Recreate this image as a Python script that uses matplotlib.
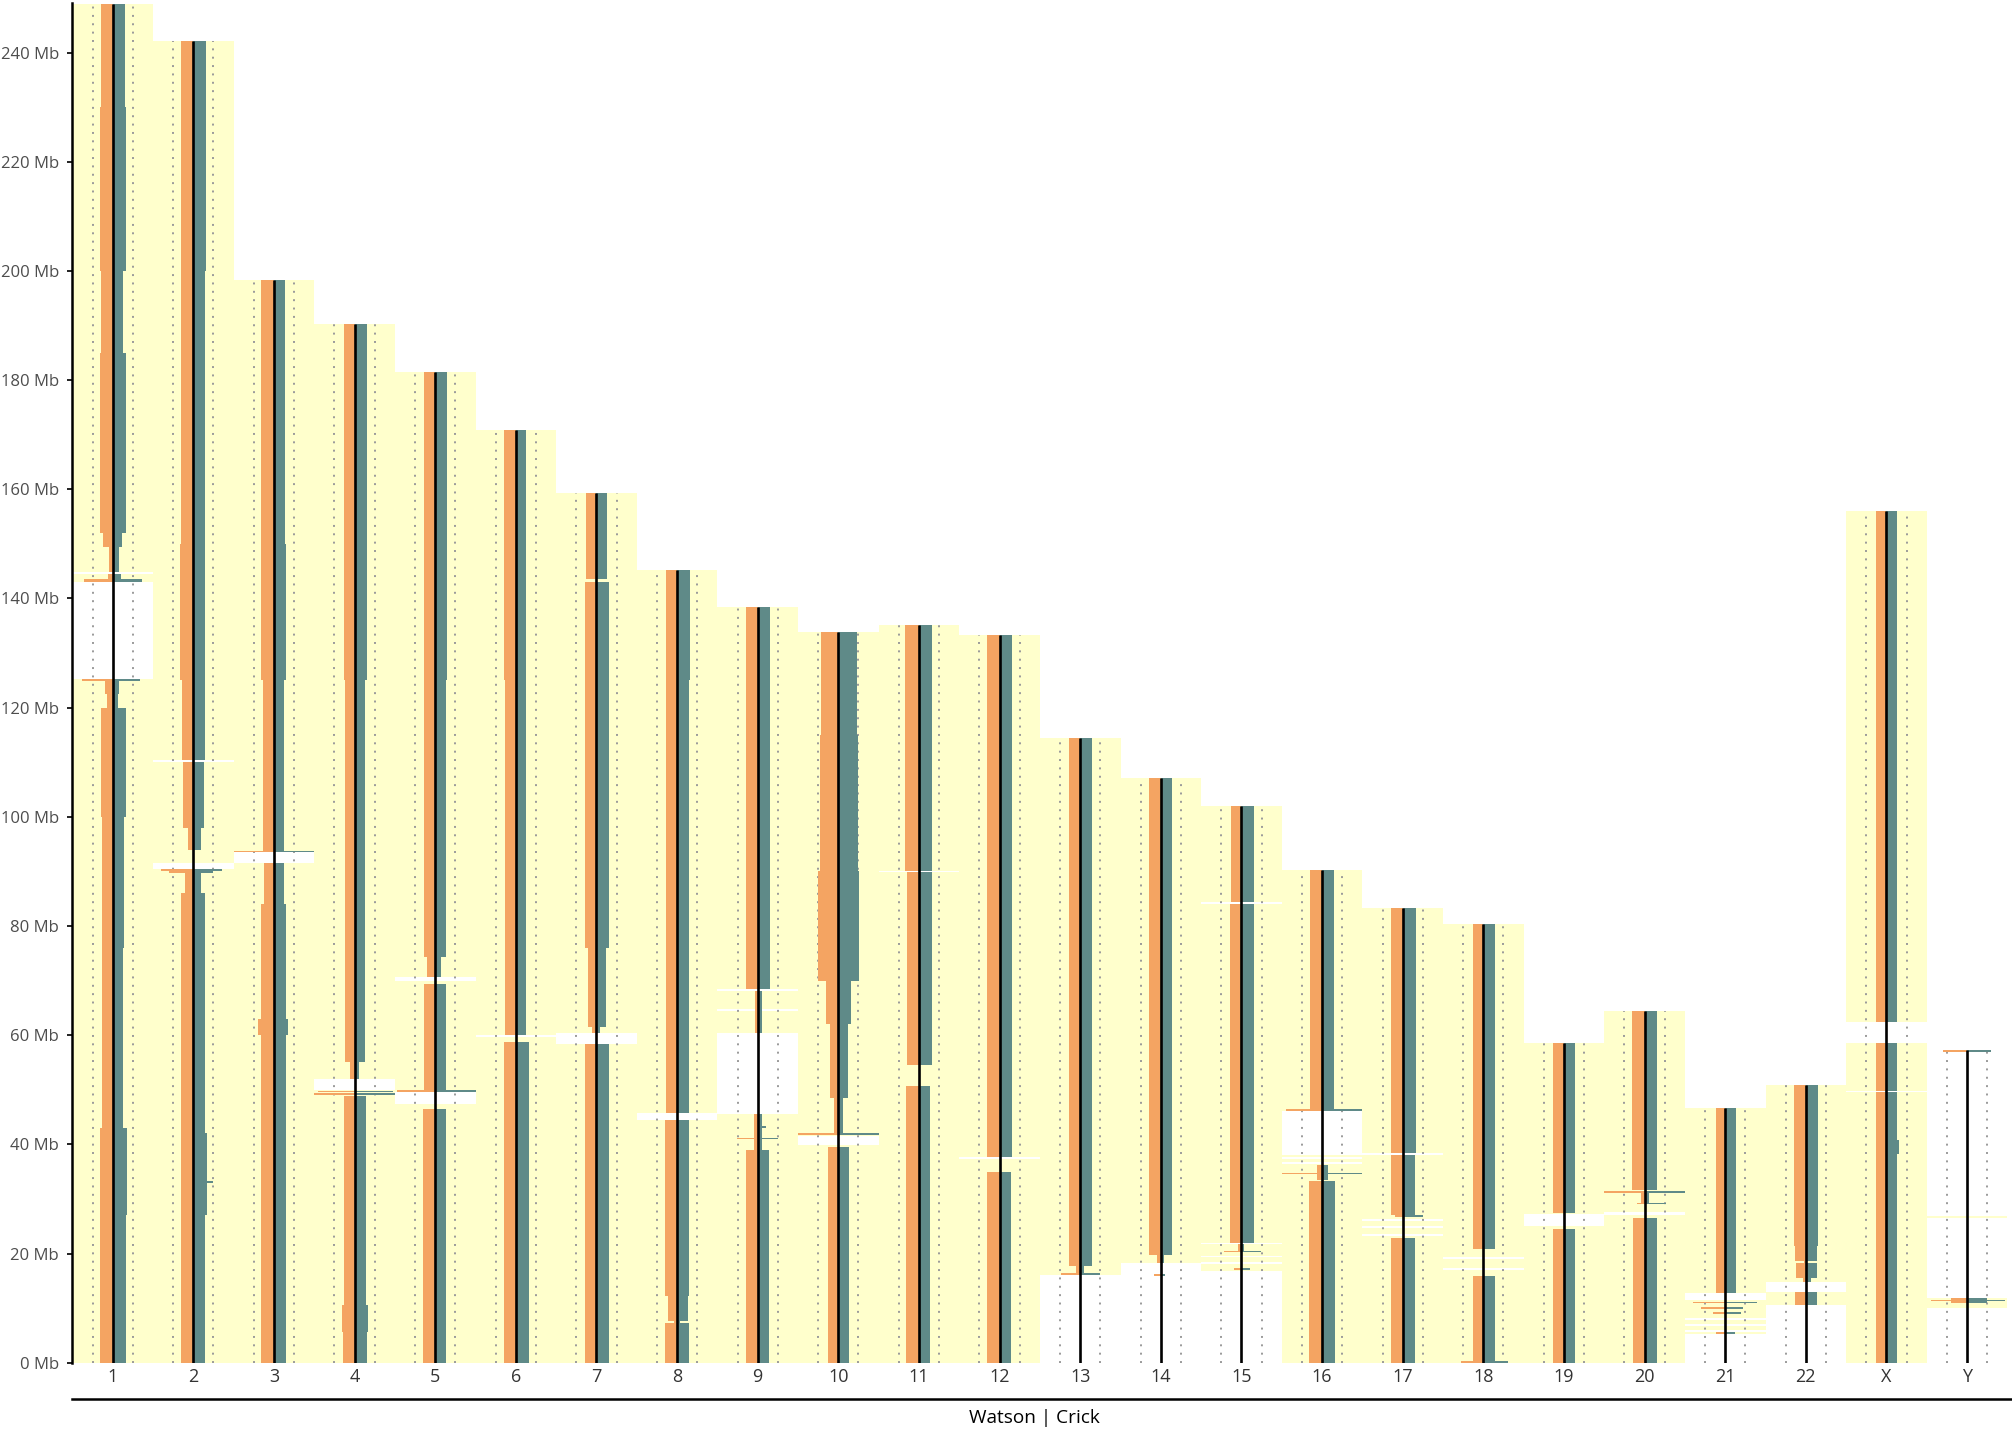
import matplotlib
matplotlib.use('Agg')
import matplotlib.pyplot as plt
from matplotlib.lines import Line2D

plt.rcParams['font.family'] = ['Open Sans', 'DejaVu Sans']

W_PX, H_PX = 2012, 1433

chroms = ['1', '2', '3', '4', '5', '6', '7', '8', '9', '10', '11', '12',
          '13', '14', '15', '16', '17', '18', '19', '20', '21', '22', 'X', 'Y']
chrom_len = [248.96, 242.19, 198.30, 190.21, 181.54, 170.81, 159.35, 145.14,
             138.39, 133.80, 135.09, 133.28, 114.36, 107.04, 101.99, 90.34,
             83.26, 80.37, 58.62, 64.44, 46.71, 50.82, 156.04, 57.23]

# stretches without bins (white background), Mb
gap_chrom = ['1', '1', '2', '2', '3', '4', '5', '5', '6', '7', '8',
             '9', '9', '9', '10', '11', '12', '13', '14',
             '15', '15', '15', '15', '15', '16', '16', '16',
             '17', '17', '17', '17', '18', '18', '19', '20',
             '21', '21', '21', '21', '21', '22', '22', 'X', 'X',
             'Y', 'Y', 'Y']
gap_start = [125.2, 144.5, 110.0, 90.5, 91.6, 49.9, 47.3, 69.9, 59.6, 58.4, 44.5,
             45.6, 68.0, 64.5, 39.9, 89.8, 37.3, 0.0, 0.0,
             0.0, 18.0, 19.3, 21.8, 84.1, 38.0, 37.4, 36.4,
             38.1, 26.0, 24.7, 23.3, 19.0, 17.0, 25.0, 27.1,
             0.0, 5.7, 6.7, 7.8, 11.4, 0.0, 13.0, 58.6, 49.5,
             0.0, 11.9, 26.8]
gap_end = [143.1, 144.9, 110.4, 91.5, 93.5, 51.9, 49.5, 70.6, 60.1, 60.4, 45.7,
           60.4, 68.4, 64.8, 41.6, 90.1, 37.6, 16.0, 18.3,
           16.8, 18.4, 19.6, 22.0, 84.4, 46.1, 37.7, 36.8,
           38.4, 26.3, 25.0, 23.6, 19.3, 17.3, 27.3, 27.6,
           5.2, 6.0, 7.0, 8.1, 12.8, 10.6, 14.8, 62.5, 49.8,
           10.0, 26.5, 57.23]

# (start Mb, end Mb, Watson, Crick) - read depth as share of column width
seg_1 = [(0, 27, 0.16, 0.17), (27, 43, 0.16, 0.18), (43, 76, 0.13, 0.13),
         (76, 100, 0.13, 0.14), (100, 120, 0.14, 0.16), (120, 122.5, 0.07, 0.06),
         (122.5, 124.9, 0.10, 0.08), (124.9, 125.2, 0.38, 0.34),
         (143.1, 143.5, 0.35, 0.36), (143.5, 144.5, 0.06, 0.10),
         (144.9, 149.5, 0.05, 0.08), (149.5, 152, 0.12, 0.12), (152, 185, 0.16, 0.16),
         (185, 200, 0.15, 0.13), (200, 230, 0.16, 0.17), (230, 248.96, 0.15, 0.15)]
seg_2 = [(0, 27, 0.15, 0.15), (27, 42, 0.15, 0.17), (33.0, 33.3, 0.15, 0.25),
         (42, 86, 0.15, 0.15), (86, 89.7, 0.10, 0.10), (89.7, 90.0, 0.30, 0.25),
         (90.1, 90.4, 0.40, 0.36), (94.0, 98.0, 0.07, 0.09), (98.0, 110.0, 0.13, 0.13),
         (110.4, 125, 0.14, 0.14), (125, 150, 0.16, 0.15), (150, 200, 0.15, 0.14),
         (200, 242.19, 0.15, 0.16)]
seg_3 = [(0, 60, 0.16, 0.15), (60, 63, 0.20, 0.17), (63, 84, 0.16, 0.15),
         (84, 91.5, 0.12, 0.12), (93.5, 93.8, 0.49, 0.50), (93.8, 125, 0.13, 0.12),
         (125, 150, 0.16, 0.15), (150, 198.3, 0.16, 0.14)]
seg_4 = [(0, 5.7, 0.14, 0.15), (5.7, 10.6, 0.16, 0.17), (10.6, 48.8, 0.13, 0.14),
         (49.1, 49.4, 0.50, 0.50), (49.5, 49.8, 0.45, 0.48), (51.9, 55.0, 0.06, 0.06),
         (55.0, 125, 0.12, 0.13), (125, 190.21, 0.13, 0.15)]
seg_5 = [(0, 46.5, 0.15, 0.14), (49.6, 49.9, 0.48, 0.50), (49.9, 69.4, 0.14, 0.14),
         (70.6, 74.4, 0.10, 0.07), (74.4, 125, 0.14, 0.14), (125, 181.54, 0.14, 0.15)]
seg_6 = [(0, 58.7, 0.15, 0.16), (60.1, 125, 0.14, 0.13), (125, 170.81, 0.145, 0.13)]
seg_7 = [(0, 58.4, 0.14, 0.15), (60.4, 61.5, 0.05, 0.05), (61.5, 76.0, 0.10, 0.12),
         (76.0, 125, 0.14, 0.15), (125, 143.0, 0.14, 0.16), (143.5, 159.35, 0.13, 0.13)]
seg_8 = [(0, 7.2, 0.15, 0.15), (7.2, 7.7, 0.04, 0.03), (7.7, 12.2, 0.11, 0.14),
         (12.2, 44.5, 0.15, 0.15), (45.7, 125, 0.14, 0.15), (125, 145.14, 0.14, 0.16)]
seg_9 = [(0, 39.0, 0.14, 0.14), (39.0, 45.6, 0.04, 0.05), (40.9, 41.2, 0.26, 0.25),
         (43.0, 43.3, 0.04, 0.10), (60.4, 68.0, 0.03, 0.05), (68.4, 138.39, 0.14, 0.15)]
seg_10 = [(0, 39.5, 0.13, 0.13), (41.7, 42.0, 0.50, 0.50), (42.0, 48.4, 0.05, 0.06),
          (48.4, 62.0, 0.10, 0.12), (62.0, 70.0, 0.15, 0.16), (70.0, 90.0, 0.25, 0.26),
          (90.0, 115.0, 0.23, 0.25), (115.0, 133.8, 0.22, 0.23)]
seg_11 = [(0, 50.7, 0.155, 0.135), (54.6, 89.8, 0.15, 0.16), (90.1, 135.09, 0.17, 0.165)]
seg_12 = [(0, 34.9, 0.15, 0.14), (37.6, 133.28, 0.155, 0.15)]
seg_13 = [(16.0, 16.4, 0.24, 0.25), (16.4, 17.7, 0.05, 0.05), (17.7, 114.36, 0.14, 0.14)]
seg_14 = [(15.9, 16.2, 0.08, 0.05), (18.3, 19.8, 0.05, 0.04), (19.8, 107.04, 0.15, 0.135)]
seg_15 = [(17.0, 17.3, 0.09, 0.10), (20.2, 20.5, 0.22, 0.24), (20.5, 21.8, 0.04, 0.03),
          (22.0, 84.1, 0.14, 0.15), (84.4, 101.99, 0.135, 0.15)]
seg_16 = [(0, 33.3, 0.16, 0.16), (33.5, 36.2, 0.06, 0.07), (34.5, 34.8, 0.50, 0.50),
          (46.1, 46.4, 0.45, 0.50), (46.4, 90.34, 0.145, 0.15)]
seg_17 = [(0, 22.9, 0.15, 0.15), (26.7, 27.0, 0.10, 0.25), (27.0, 38.1, 0.14, 0.15),
          (38.4, 83.26, 0.15, 0.16)]
seg_18 = [(0, 0.4, 0.28, 0.30), (0.4, 15.9, 0.13, 0.14), (20.8, 80.37, 0.125, 0.14)]
seg_19 = [(0, 24.5, 0.14, 0.14), (27.4, 58.62, 0.14, 0.14)]
seg_20 = [(0, 26.5, 0.14, 0.15), (29.0, 29.3, 0.10, 0.27), (29.3, 31.0, 0.05, 0.05),
          (31.1, 31.4, 0.50, 0.50), (31.7, 64.44, 0.15, 0.16)]
seg_21 = [(5.3, 5.6, 0.11, 0.12), (8.9, 9.2, 0.15, 0.20), (9.9, 10.2, 0.30, 0.22),
          (10.9, 11.2, 0.40, 0.40), (12.8, 46.71, 0.12, 0.13)]
seg_22 = [(10.6, 13.0, 0.13, 0.14), (14.8, 15.5, 0.04, 0.06), (15.5, 18.2, 0.12, 0.14),
          (18.2, 18.6, 0.02, 0.02), (18.6, 21.3, 0.14, 0.14), (21.3, 50.82, 0.15, 0.15)]
seg_X = [(0, 38.3, 0.13, 0.13), (38.3, 40.8, 0.13, 0.16), (40.8, 49.5, 0.13, 0.13),
         (49.8, 58.6, 0.13, 0.13), (62.5, 156.04, 0.13, 0.13)]
seg_Y = [(10.9, 11.8, 0.20, 0.25), (11.3, 11.5, 0.45, 0.47), (56.9, 57.2, 0.30, 0.30)]

segments = [seg_1, seg_2, seg_3, seg_4, seg_5, seg_6, seg_7, seg_8, seg_9, seg_10,
            seg_11, seg_12, seg_13, seg_14, seg_15, seg_16, seg_17, seg_18, seg_19,
            seg_20, seg_21, seg_22, seg_X, seg_Y]

yticks = [0, 20, 40, 60, 80, 100, 120, 140, 160, 180, 200, 220, 240]

c_watson = '#F4A462'
c_crick = '#5F8A88'
c_bg = '#FFFFCC'

fig = plt.figure(figsize=(W_PX / 100, H_PX / 100), dpi=100)
ax = fig.add_axes([72.4 / W_PX, 70.3 / H_PX, 1935 / W_PX, 1359.3 / H_PX])

for i, (name, length) in enumerate(zip(chroms, chrom_len)):
    xc = i + 1
    # yellow background = chromosome minus its gaps
    gaps = sorted((s, e) for c, s, e in zip(gap_chrom, gap_start, gap_end) if c == name)
    pos = 0.0
    for s, e in gaps + [(length, length)]:
        if s > pos:
            ax.barh(pos, 1.0, height=s - pos, left=xc - 0.5, align='edge',
                    color=c_bg, linewidth=0, zorder=1)
        pos = max(pos, e)

    # dotted guides
    for dx in (-0.25, 0.25):
        ax.plot([xc + dx, xc + dx], [0, length], color='#9A9A9A', lw=1.4,
                linestyle=(0, (1, 3.3)), zorder=2)

    segs = segments[i]
    starts = [s[0] for s in segs]
    heights = [s[1] - s[0] for s in segs]
    watson = [s[2] for s in segs]
    crick = [s[3] for s in segs]
    ax.barh(starts, [-w for w in watson], height=heights, left=xc, align='edge',
            color=c_watson, linewidth=0, zorder=3)
    ax.barh(starts, crick, height=heights, left=xc, align='edge',
            color=c_crick, linewidth=0, zorder=3)

    ax.plot([xc, xc], [0, length], color='black', lw=1.9, zorder=4,
            solid_capstyle='butt')

ax.set_xlim(0.5, 24.5)
ax.set_ylim(0, 249)
ax.set_xticks(range(1, 25))
ax.set_xticklabels(chroms, fontsize=13, color='#333333')
ax.set_yticks(yticks)
ax.set_yticklabels([f'{v} Mb' for v in yticks], fontsize=12, color='#4D4D4D')
ax.tick_params(axis='x', length=0, pad=4)
ax.tick_params(axis='y', length=3.8, width=1.4, color='#222222', pad=6)
for side in ('top', 'right', 'bottom'):
    ax.spines[side].set_visible(False)
ax.spines['left'].set_linewidth(1.8)
ax.spines['left'].set_color('black')
ax.set_facecolor('white')

# axis line under the chromosome names, and the strand title
y_line = 1 - 1398.5 / H_PX
fig.add_artist(Line2D([72.4 / W_PX, 1.0], [y_line, y_line], color='black', lw=1.8))
fig.text(1034 / W_PX, 1 - 1418 / H_PX, 'Watson | Crick', ha='center', va='center',
         fontsize=13.7, color='black')

fig.savefig('out.png', dpi=100)
